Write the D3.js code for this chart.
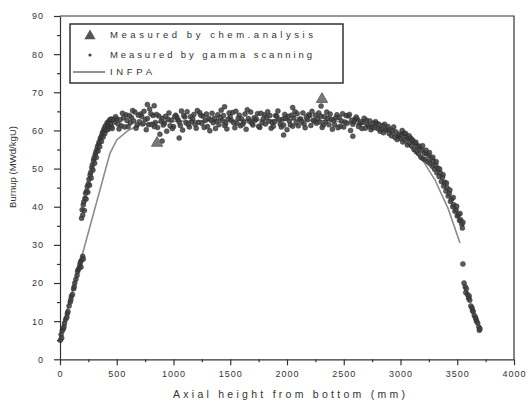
<!DOCTYPE html>
<html>
<head>
<meta charset="utf-8">
<script src="https://cdn.jsdelivr.net/npm/d3@7"></script>
<style>
  body { margin: 0; background: #fff; }
  svg { display: block; font-family: "Liberation Sans", Arial, sans-serif; }
  .axis path, .axis line { stroke: #333; stroke-width: 1.2px; }
  .axis text { fill: #333; font-size: 9px; letter-spacing: 1px; }
</style>
</head>
<body>
<svg id="chart" width="530" height="411"></svg>
<script>
// x ticks / y ticks
var xTicks = [0, 500, 1000, 1500, 2000, 2500, 3000, 3500, 4000];
var yTicks = [0, 10, 20, 30, 40, 50, 60, 70, 80, 90];

// measured by chem. analysis  [height mm, burnup]
var chemData = [[855, 56.7], [2308, 68.2]];

// INFPA calculation
var infpaData = [[0, 6], [440, 54], [500, 57.5], [600, 60], [700, 61.5], [900, 62.3],
  [1200, 62.5], [1600, 62.7], [2000, 62.8], [2400, 62.5], [2700, 61.5], [2900, 59.8],
  [3050, 56.8], [3200, 52], [3304, 47], [3420, 39.5], [3524, 30.5]];

// gamma scanning, bottom part of lower pellet stack
var gammaLow = [[3, 5], [10, 6.5], [15, 5.6], [20, 7.5], [30, 8], [35, 8.6], [40, 9.5], [50, 10.5],
  [60, 11], [65, 12], [70, 12.5], [80, 14], [90, 15], [95, 15.6], [100, 16.5], [110, 17],
  [120, 18.5], [125, 19], [130, 20], [140, 21], [150, 22], [155, 23], [160, 23.5], [170, 24],
  [175, 24.8], [180, 25.5], [185, 24.2], [190, 26], [200, 27], [205, 26.3]];

// gamma scanning, rising edge
var gammaRise = [[190, 37.0], [195, 39.2], [200, 37.8], [205, 40.5], [210, 41.3], [215, 39.0],
  [220, 42.2], [225, 43.5], [230, 42.0], [235, 44.1], [240, 45.3], [245, 43.8], [250, 46.0],
  [255, 47.2], [260, 45.6], [265, 48.3], [270, 49.0], [275, 47.5], [280, 50.2], [285, 51.0],
  [290, 49.6], [295, 52.1], [300, 52.8], [305, 51.4], [310, 53.6], [315, 54.3], [320, 52.9],
  [325, 55.0], [330, 55.8], [335, 54.6], [340, 56.4], [345, 57.0], [350, 55.7], [355, 57.8],
  [360, 58.2], [365, 57.1], [370, 58.9], [375, 59.5], [380, 58.3], [385, 60.0], [390, 60.6],
  [395, 59.2], [400, 61.2], [410, 60.1], [415, 62.0], [420, 61.5], [425, 60.3], [430, 62.4],
  [435, 61.0], [440, 62.8], [445, 61.6], [450, 63.0], [455, 60.9]];

// gamma scanning, plateau
var gammaFlat = [
  [460, 60.5], [500, 63.0], [540, 61.2], [580, 64.1], [620, 62.0], [660, 64.8], [700, 62.3], [740, 65.0],
  [780, 61.5], [820, 63.9], [860, 60.8], [900, 63.2], [940, 59.8], [980, 62.7], [1020, 64.0], [1060, 61.3],
  [1100, 63.5], [1140, 60.9], [1180, 64.2], [1220, 62.1], [1260, 63.7], [1300, 61.0], [1340, 64.5], [1380, 62.4],
  [1420, 65.3], [1460, 61.8], [1500, 63.6], [1540, 60.7], [1580, 64.0], [1620, 62.2], [1660, 63.1], [1700, 61.4],
  [1740, 64.4], [1780, 62.0], [1820, 63.5], [1860, 60.6], [1900, 63.9], [1940, 61.7], [1980, 64.2], [2020, 62.5],
  [2060, 63.3], [2100, 61.2], [2140, 64.6], [2180, 62.8], [2220, 65.0], [2260, 61.9], [2300, 63.7], [2340, 62.2],
  [2380, 64.3], [2420, 61.5], [2460, 63.4], [2500, 60.9], [2540, 63.8], [2580, 61.6], [2620, 62.9], [2660, 60.5],
  [2700, 62.7], [2740, 60.2], [2780, 62.3], [2820, 59.8], [2860, 61.6], [2900, 59.2], [2940, 60.9], [2980, 58.4],
  [480, 62.2], [520, 60.4], [560, 63.3], [600, 61.0], [640, 65.2], [680, 61.4], [720, 63.7], [760, 60.2],
  [800, 64.4], [840, 62.1], [880, 59.0], [920, 61.9], [960, 64.6], [1000, 61.0], [1040, 62.8], [1080, 60.1],
  [1120, 64.9], [1160, 62.3], [1200, 60.6], [1240, 64.0], [1280, 62.6], [1320, 59.9], [1360, 63.2], [1400, 61.5],
  [1440, 63.9], [1480, 62.9], [1520, 64.7], [1560, 61.9], [1600, 63.0], [1640, 60.3], [1680, 64.8], [1720, 62.7],
  [1760, 60.8], [1800, 64.1], [1840, 62.4], [1880, 61.1], [1920, 65.1], [1960, 62.9], [2000, 60.2], [2040, 64.0],
  [2080, 62.0], [2120, 63.0], [2160, 60.7], [2200, 63.9], [2240, 62.4], [2280, 64.6], [2320, 61.4], [2360, 63.2],
  [2400, 60.3], [2440, 64.1], [2480, 62.5], [2520, 63.9], [2560, 60.0], [2600, 63.0], [2640, 61.7], [2680, 63.2],
  [2720, 61.1], [2760, 61.9], [2800, 60.5], [2840, 61.2], [2880, 60.4], [2920, 58.6], [2960, 59.6], [3000, 57.9],
  [470, 62.9], [510, 61.7], [550, 64.5], [590, 62.6], [630, 63.4], [670, 60.6], [710, 64.3], [750, 62.8],
  [790, 65.6], [830, 61.0], [870, 63.8], [910, 61.4], [950, 63.0], [990, 60.5], [1030, 63.4], [1070, 65.1],
  [1110, 62.0], [1150, 63.6], [1190, 61.6], [1230, 64.7], [1270, 60.8], [1310, 63.2], [1350, 62.0], [1390, 64.1],
  [1430, 62.6], [1470, 60.4], [1510, 62.6], [1550, 65.0], [1590, 61.2], [1630, 64.3], [1670, 62.4], [1710, 63.3],
  [1750, 61.1], [1790, 63.0], [1830, 64.9], [1870, 62.1], [1910, 63.7], [1950, 60.9], [1990, 63.2], [2030, 61.5],
  [2070, 64.9], [2110, 62.9], [2150, 61.7], [2190, 64.1], [2230, 62.7], [2270, 63.1], [2310, 60.8], [2350, 64.8],
  [2390, 62.9], [2430, 63.3], [2470, 61.1], [2510, 62.2], [2550, 64.2], [2590, 62.4], [2630, 61.0], [2670, 62.2],
  [2710, 61.5], [2750, 60.9], [2790, 61.8], [2830, 60.3], [2870, 60.1], [2910, 60.2], [2950, 58.2], [2990, 59.0],
  [490, 63.6], [530, 62.8], [570, 60.9], [610, 63.9], [650, 62.5], [690, 64.0], [730, 61.7], [770, 63.1],
  [810, 61.6], [850, 64.2], [890, 62.4], [930, 63.7], [970, 61.2], [1010, 63.6], [1050, 62.2], [1090, 63.9],
  [1130, 61.6], [1170, 63.0], [1210, 65.2], [1250, 61.9], [1290, 64.3], [1330, 62.7], [1370, 60.5], [1410, 63.4],
  [1450, 61.3], [1490, 64.6], [1530, 62.0], [1570, 63.2], [1610, 61.6], [1650, 65.4], [1690, 61.9], [1730, 63.0],
  [1770, 64.5], [1810, 61.7], [1850, 63.9], [1890, 62.3], [1930, 62.8], [1970, 61.4], [2010, 63.7], [2050, 61.1],
  [2090, 64.4], [2130, 62.3], [2170, 63.5], [2210, 61.3], [2250, 64.0], [2290, 62.2], [2330, 63.6], [2370, 61.5],
  [2410, 62.6], [2450, 60.7], [2490, 64.4], [2530, 61.9], [2570, 62.7], [2610, 63.5], [2650, 62.3], [2690, 60.6],
  [2730, 62.5], [2770, 60.7], [2810, 61.6], [2850, 59.4], [2890, 61.0], [2930, 59.9], [2970, 57.6],
  [830, 66.5], [1450, 66.2], [2050, 66.0], [900, 57.2], [1050, 58.0], [2580, 58.5], [1970, 58.8], [770, 66.8], [2300, 66.4]];

// gamma scanning, falling edge
var gammaFall = [[3010, 58.8], [3020, 57.0], [3030, 59.3], [3040, 57.6], [3050, 58.4], [3060, 56.2],
  [3070, 57.9], [3080, 56.8], [3090, 58.0], [3100, 55.9], [3110, 57.2], [3120, 55.0], [3130, 56.6],
  [3140, 54.4], [3150, 55.8], [3160, 53.9], [3170, 55.3], [3180, 53.0], [3190, 54.8], [3200, 52.6],
  [3210, 54.1], [3220, 52.3], [3230, 53.9], [3240, 51.8], [3250, 53.4], [3260, 51.3], [3270, 52.7],
  [3280, 50.6], [3290, 52.0], [3300, 49.8], [3310, 51.0], [3320, 48.9], [3330, 50.1], [3340, 47.9],
  [3350, 48.9], [3360, 46.6], [3370, 47.7], [3380, 45.4], [3390, 46.4], [3400, 44.1], [3410, 45.0],
  [3420, 42.8], [3430, 43.5], [3440, 41.4], [3450, 42.0], [3460, 40.0], [3470, 40.5], [3480, 38.8],
  [3490, 39.2], [3500, 37.6], [3510, 37.9], [3520, 36.4], [3530, 36.6], [3540, 35.4], [3550, 35.9],
  [3015, 60.0], [3045, 59.2], [3075, 58.6], [3105, 57.5], [3135, 56.9], [3165, 55.9], [3195, 56.0],
  [3225, 54.8], [3255, 54.2], [3285, 53.0], [3315, 51.8], [3345, 49.9], [3375, 48.4], [3405, 46.2],
  [3435, 44.4], [3465, 42.4], [3495, 40.1], [3525, 38.2], [3545, 34.4]];

// gamma scanning, top end
var gammaTop = [[3550, 25], [3560, 20], [3570, 19], [3575, 17.5], [3580, 18.5], [3590, 17],
  [3600, 16], [3605, 16.6], [3610, 15.5], [3620, 14], [3630, 13.5], [3635, 12.8], [3640, 12.5],
  [3650, 11.5], [3660, 11], [3665, 10.5], [3670, 10], [3680, 9.5], [3690, 8.5], [3695, 7.6], [3700, 8]];

var legendLabels = ["Measured by chem.analysis", "Measured by gamma scanning", "INFPA"];

var svg = d3.select("#chart"),
  margin = { top: 16, right: 15, bottom: 52, left: 60 },
  width = +svg.attr("width"),
  height = +svg.attr("height");

var x = d3.scaleLinear().domain([0, 4000]).range([margin.left, width - margin.right - 1]);
var y = d3.scaleLinear().domain([0, 90]).range([359.3, margin.top]);

var ink = "#333";

// minor ticks
svg.append("g")
  .attr("class", "axis")
  .attr("transform", "translate(0," + y(0) + ")")
  .call(d3.axisBottom(x).tickValues(d3.range(250, 4000, 500)).tickSize(3).tickFormat(""))
  .select(".domain").remove();

svg.append("g")
  .attr("class", "axis")
  .attr("transform", "translate(" + x(0) + ",0)")
  .call(d3.axisLeft(y).tickValues(d3.range(5, 90, 10)).tickSize(3).tickFormat(""))
  .select(".domain").remove();

// major ticks
svg.append("g")
  .attr("class", "axis")
  .attr("transform", "translate(0," + y(0) + ")")
  .call(d3.axisBottom(x).tickValues(xTicks).tickFormat(d3.format("d"))
    .tickSize(6).tickPadding(5).tickSizeOuter(0));

svg.append("g")
  .attr("class", "axis")
  .attr("transform", "translate(" + x(0) + ",0)")
  .call(d3.axisLeft(y).tickValues(yTicks).tickFormat(d3.format("d"))
    .tickSize(6).tickPadding(10).tickSizeOuter(0));

// frame top + right
svg.append("path")
  .attr("d", "M" + x(0) + "," + y(90) + "H" + x(4000) + "V" + y(0))
  .attr("fill", "none")
  .attr("stroke", ink)
  .attr("stroke-width", 1.2);

// INFPA line
var line = d3.line().x(d => x(d[0])).y(d => y(d[1]));

svg.append("path")
  .datum(infpaData)
  .attr("fill", "none")
  .attr("stroke", "#8c8c8c")
  .attr("stroke-width", 1.6)
  .attr("d", line);

// gamma points
var gammaAll = gammaLow.concat(gammaRise, gammaFlat, gammaFall, gammaTop);

svg.append("g")
  .selectAll("circle")
  .data(gammaAll)
  .join("circle")
  .attr("cx", d => x(d[0]))
  .attr("cy", d => y(d[1]))
  .attr("r", 2.5)
  .attr("fill", "#404040")
  .attr("fill-opacity", 0.85)
  .attr("stroke", "#222")
  .attr("stroke-width", 0.4);

// chem analysis triangles
var tri = d3.symbol().type(d3.symbolTriangle).size(55);

svg.append("g")
  .selectAll("path")
  .data(chemData)
  .join("path")
  .attr("transform", d => "translate(" + x(d[0]) + "," + y(d[1]) + ")")
  .attr("d", tri)
  .attr("fill", "#7a7a7a")
  .attr("stroke", "#555")
  .attr("stroke-width", 0.8);

// legend
var legend = svg.append("g");

legend.append("rect")
  .attr("x", 70).attr("y", 24)
  .attr("width", 273).attr("height", 59)
  .attr("fill", "#fff")
  .attr("stroke", ink)
  .attr("stroke-width", 1.5);

legend.append("path")
  .attr("transform", "translate(90,36)")
  .attr("d", tri)
  .attr("fill", "#555");

legend.append("circle")
  .attr("cx", 90).attr("cy", 55).attr("r", 1.6)
  .attr("fill", "#444");

legend.append("line")
  .attr("x1", 73).attr("x2", 105)
  .attr("y1", 72).attr("y2", 72)
  .attr("stroke", "#777")
  .attr("stroke-width", 1.6);

var legendY = [35, 55, 72],
  legendW = [203, 202, 42];

legend.selectAll("text")
  .data(legendLabels)
  .join("text")
  .attr("x", 110)
  .attr("y", (d, i) => legendY[i])
  .attr("dy", "0.35em")
  .attr("font-size", 9.5)
  .attr("fill", ink)
  .attr("textLength", (d, i) => legendW[i])
  .attr("lengthAdjust", "spacing")
  .text(d => d);

// axis labels
svg.append("text")
  .attr("x", 289)
  .attr("y", 398)
  .attr("text-anchor", "middle")
  .attr("font-size", 10.5)
  .attr("fill", ink)
  .attr("textLength", 232)
  .attr("lengthAdjust", "spacing")
  .text("Axial height from bottom (mm)");

svg.append("text")
  .attr("transform", "translate(16,167) rotate(-90)")
  .attr("text-anchor", "middle")
  .attr("font-size", 9.5)
  .attr("fill", ink)
  .attr("textLength", 82)
  .attr("lengthAdjust", "spacing")
  .text("Burnup (MWd/kgU)");
</script>
</body>
</html>
